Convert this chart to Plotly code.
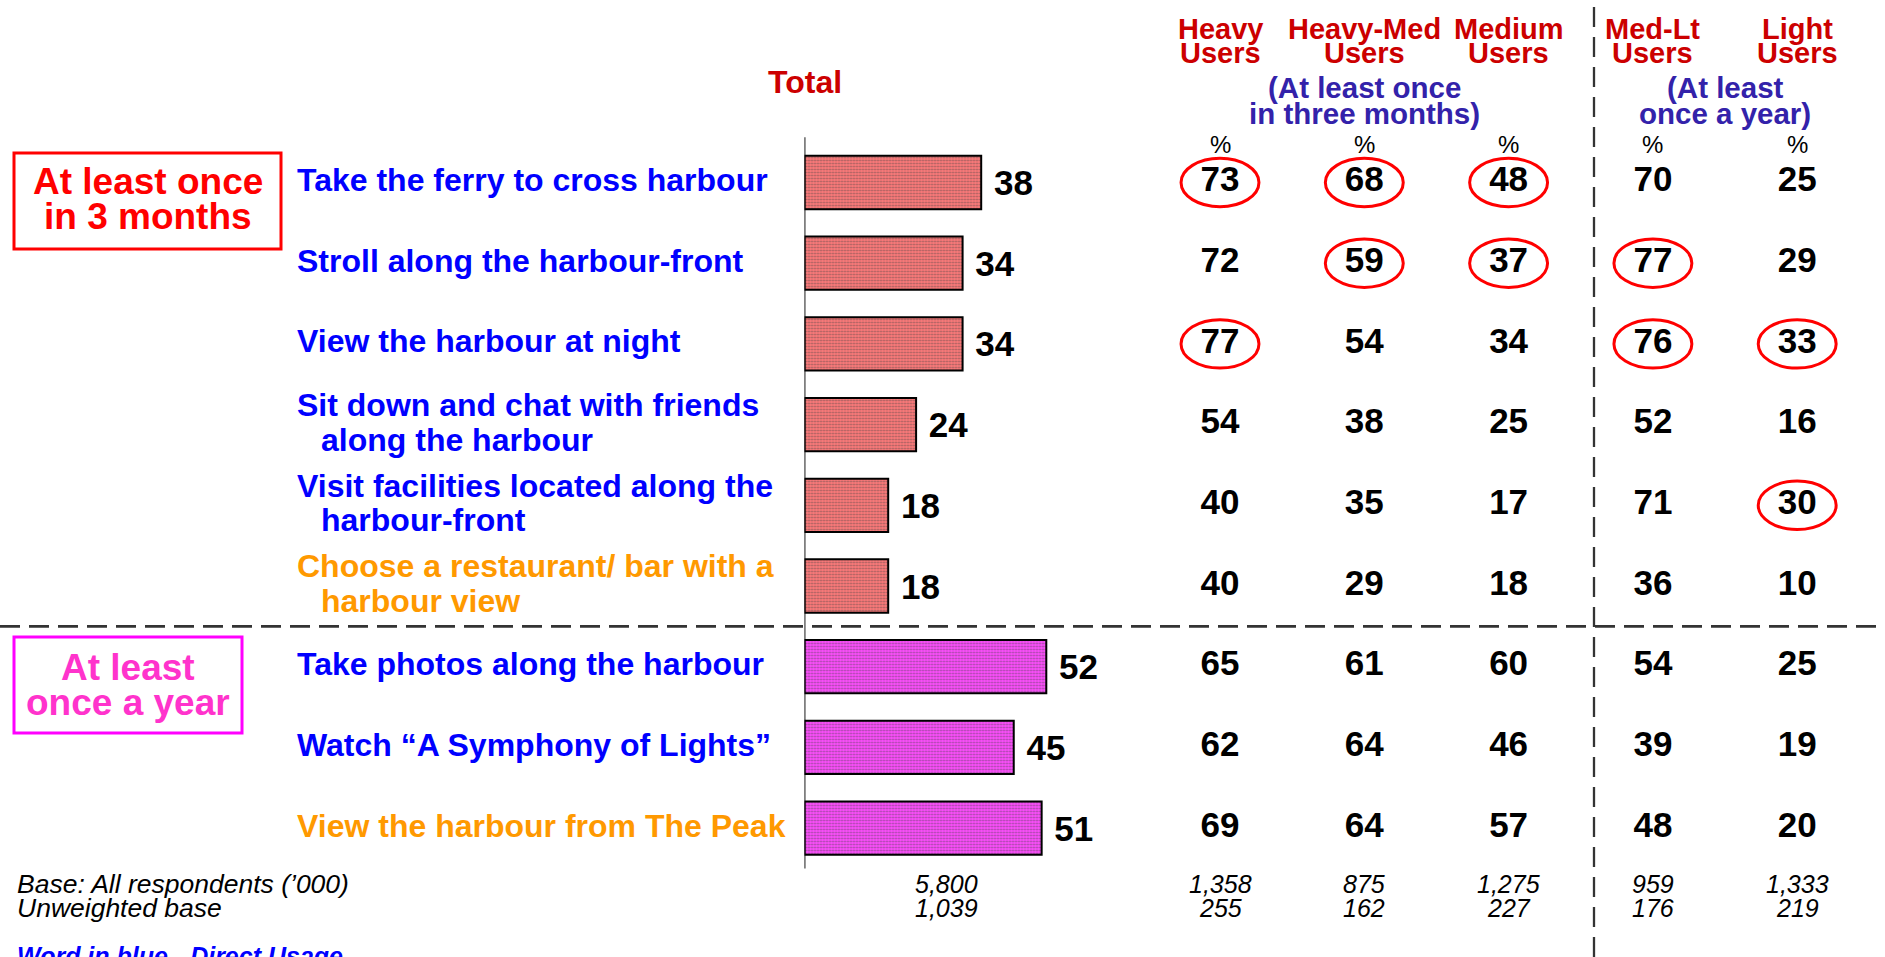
import plotly.graph_objects as go

W, H = 1885, 957
FONT = "Liberation Sans, Arial, sans-serif"

# ---- data ----
label_lines = [
    ["Take the ferry to cross harbour"],
    ["Stroll along the harbour-front"],
    ["View the harbour at night"],
    ["Sit down and chat with friends", "along the harbour"],
    ["Visit facilities located along the", "harbour-front"],
    ["Choose a restaurant/ bar with a", "harbour view"],
    ["Take photos along the harbour"],
    ["Watch \u201cA Symphony of Lights\u201d"],
    ["View the harbour from The Peak"],
]
usage = ["direct", "direct", "direct", "direct", "direct", "indirect", "direct", "direct", "indirect"]
frequency = ["3m", "3m", "3m", "3m", "3m", "3m", "year", "year", "year"]

total = [38, 34, 34, 24, 18, 18, 52, 45, 51]

segments = ["Heavy", "Heavy-Med", "Medium", "Med-Lt", "Light"]
heavy = [73, 72, 77, 54, 40, 40, 65, 62, 69]
heavy_med = [68, 59, 54, 38, 35, 29, 61, 64, 64]
medium = [48, 37, 34, 25, 17, 18, 60, 46, 57]
med_lt = [70, 77, 76, 52, 71, 36, 54, 39, 48]
light = [25, 29, 33, 16, 30, 10, 25, 19, 20]
segment_values = [heavy, heavy_med, medium, med_lt, light]

# (row, segment) cells flagged with a red ring
circled = [(0, 0), (0, 1), (0, 2), (1, 1), (1, 2), (1, 3),
           (2, 0), (2, 3), (2, 4), (4, 4)]

base_total = "5,800"
unweighted_total = "1,039"
base_seg = ["1,358", "875", "1,275", "959", "1,333"]
unweighted_seg = ["255", "162", "227", "176", "219"]

# ---- styling ----
label_colors = {"direct": "#0000FF", "indirect": "#FF9900"}
bar_bg = {"3m": "#FF7A7A", "year": "#FF4EFF"}
bar_dot = {"3m": "#FFE2E2", "year": "#FFDDFF"}
HEAD_RED = "#CC0000"
SUB_BLUE = "#3322AA"
DASH = "#333333"

rows = list(range(len(total)))
ROW_PX = 80.7
ROW0_PX = 182.5
BAR_PX = 4.65
AXIS_PX = 804.5
COL_PX = 144.3
COL0_PX = 1220


def ypaper(px):
    return 1 - px / H


def xpaper(px):
    return px / W


fig = go.Figure()

fig.add_trace(
    go.Bar(
        x=total,
        y=rows,
        orientation="h",
        width=0.66,
        marker=dict(
            color=[bar_bg[f] for f in frequency],
            line=dict(color="black", width=2),
            pattern=dict(
                shape=".",
                fgcolor=[bar_dot[f] for f in frequency],
                bgcolor=[bar_bg[f] for f in frequency],
                size=3,
                solidity=0.4,
            ),
        ),
        text=[f" {v}" for v in total],
        textposition="outside",
        textfont=dict(family=FONT, size=35, color="black", weight="bold"),
        cliponaxis=False,
        xaxis="x",
        yaxis="y",
        showlegend=False,
    )
)

# table of segment values
for seg, vals in zip(segments, segment_values):
    fig.add_trace(
        go.Scatter(
            x=[seg] * len(vals),
            y=rows,
            mode="text",
            text=[str(v) for v in vals],
            textposition="middle center",
            textfont=dict(family=FONT, size=35, color="black", weight="bold"),
            xaxis="x2",
            yaxis="y",
            showlegend=False,
        )
    )

shapes = []
# red rings
for r, c in circled:
    shapes.append(dict(type="circle", xref="x2", yref="y",
                       x0=c - 0.27, x1=c + 0.27, y0=r - 0.3, y1=r + 0.3,
                       line=dict(color="#FF0000", width=3)))

# bar axis line
shapes.append(dict(type="line", xref="x", yref="y", x0=0, x1=0, y0=-0.56, y1=8.5,
                   line=dict(color="black", width=1.8)))
# separator between frequency groups
shapes.append(dict(type="line", xref="paper", yref="y", x0=0, x1=1, y0=5.5, y1=5.5,
                   line=dict(color=DASH, width=2.7, dash="20px,9px")))
# separator between user groups
shapes.append(dict(type="line", xref="paper", yref="paper", x0=xpaper(1594), x1=xpaper(1594),
                   y0=0, y1=ypaper(3),
                   line=dict(color=DASH, width=2.3, dash="20px,10px")))
# group boxes
shapes.append(dict(type="rect", xref="paper", yref="paper",
                   x0=xpaper(14), x1=xpaper(281), y0=ypaper(153), y1=ypaper(249),
                   line=dict(color="#FF0000", width=3)))
shapes.append(dict(type="rect", xref="paper", yref="paper",
                   x0=xpaper(14), x1=xpaper(242), y0=ypaper(637), y1=ypaper(733),
                   line=dict(color="#FF00FF", width=3)))

ann = []


def text(x, y, t, size, color, xref="paper", yref="paper", xanchor="center",
         weight="bold", style="normal"):
    ann.append(dict(x=x, y=y, xref=xref, yref=yref, text=t, showarrow=False,
                    xanchor=xanchor, yanchor="middle",
                    font=dict(family=FONT, size=size, color=color,
                              weight=weight, style=style)))


# row labels
for r, (lines, u) in enumerate(zip(label_lines, usage)):
    if len(lines) == 1:
        text(xpaper(295), r - 0.03, lines[0], 32, label_colors[u], yref="y", xanchor="left")
    else:
        text(xpaper(295), r - 0.245, lines[0], 32, label_colors[u], yref="y", xanchor="left")
        text(xpaper(319), r + 0.185, lines[1], 32, label_colors[u], yref="y", xanchor="left")

# group box labels
text(xpaper(148), ypaper(181), "At least once", 37, "#FF0000")
text(xpaper(148), ypaper(216), "in 3 months", 37, "#FF0000")
text(xpaper(128), ypaper(667), "At least", 37, "#FF33CC")
text(xpaper(128), ypaper(702), "once a year", 37, "#FF33CC")

# Total header
text(0, ypaper(82), "Total", 32, HEAD_RED, xref="x")
text(-0.3, ypaper(131), "%", 24, "black", xref="x", weight="normal")

# segment headers
for i, seg in enumerate(segments):
    text(i, ypaper(29), seg, 29, HEAD_RED, xref="x2")
    text(i, ypaper(53), "Users", 29, HEAD_RED, xref="x2")
    text(i, ypaper(144), "%", 24, "black", xref="x2", weight="normal")

text(1, ypaper(87), "(At least once", 29.5, SUB_BLUE, xref="x2")
text(1, ypaper(114), "in three months)", 29.5, SUB_BLUE, xref="x2")
text(3.5, ypaper(87), "(At least", 29.5, SUB_BLUE, xref="x2")
text(3.5, ypaper(114), "once a year)", 29.5, SUB_BLUE, xref="x2")

# bases
text(xpaper(15), ypaper(884), "Base: All respondents (\u2019000)", 26.5, "black",
     xanchor="left", weight="normal", style="italic")
text(xpaper(15), ypaper(908), "Unweighted base", 26.5, "black",
     xanchor="left", weight="normal", style="italic")
text(xpaper(946), ypaper(884), base_total, 25, "black", weight="normal", style="italic")
text(xpaper(946), ypaper(908), unweighted_total, 25, "black", weight="normal", style="italic")
for i, (b, u) in enumerate(zip(base_seg, unweighted_seg)):
    text(i, ypaper(884), b, 25, "black", xref="x2", weight="normal", style="italic")
    text(i, ypaper(908), u, 25, "black", xref="x2", weight="normal", style="italic")

text(xpaper(15), ypaper(956), "Word in blue - Direct Usage", 25, "#0000FF",
     xanchor="left", style="italic")

fig.update_layout(
    width=W,
    height=H,
    margin=dict(l=0, r=0, t=0, b=0),
    plot_bgcolor="rgba(0,0,0,0)",
    paper_bgcolor="white",
    showlegend=False,
    shapes=shapes,
    annotations=ann,
    xaxis=dict(domain=[AXIS_PX / W, 1], range=[0, (W - AXIS_PX) / BAR_PX],
               visible=False, fixedrange=True),
    xaxis2=dict(domain=[0, 1], anchor="y", type="category",
                categoryorder="array", categoryarray=segments,
                range=[-COL0_PX / COL_PX, (W - COL0_PX) / COL_PX],
                visible=False, fixedrange=True),
    yaxis=dict(domain=[0, 1],
               range=[-ROW0_PX / ROW_PX + H / ROW_PX, -ROW0_PX / ROW_PX],
               visible=False, fixedrange=True),
)

fig.write_html("out.html", config={"displayModeBar": False},
               post_script="document.body.style.margin='0';")
